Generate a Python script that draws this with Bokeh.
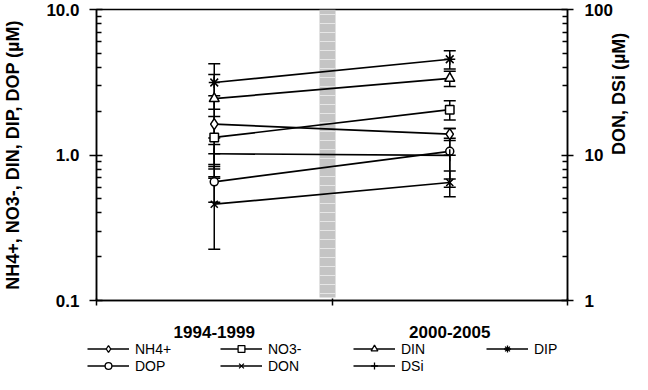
import math
from bokeh.plotting import figure
from bokeh.layouts import column
from bokeh.models import (Range1d, LogScale, LogAxis, FixedTicker,
                          Whisker, TeeHead, ColumnDataSource, Legend, LegendItem)
from bokeh.embed import file_html
from bokeh.resources import INLINE

# ---- data ----
periods = ["1994-1999", "2000-2005"]
nh4 = [1.63, 1.39]
nh4_err = [0.92, 0.13]
no3 = [1.32, 2.05]
no3_err = [0.52, 0.31]
din = [2.44, 3.36]
din_err = [1.13, 0.40]
dip = [3.15, 4.55]
dip_err = [1.09, 0.65]
dop = [0.654, 1.06]
dop_err = [0.18, 0.46]
don = [4.59, 6.47]          # right axis
don_err = [2.34, 1.30]
dsi = [10.2, 9.95]          # right axis
dsi_err = [1.6, 3.1]
left_ticks = [0.1, 1, 10]
left_labels = ["0.1", "1.0", "10.0"]
right_ticks = [1, 10, 100]
right_labels = ["1", "10", "100"]

FONT = "Liberation Sans"
xs = [i + 0.5 for i in range(len(periods))]

p = figure(frame_width=471, frame_height=291, x_range=Range1d(0, 2), y_range=Range1d(0.1, 10),
           y_axis_type="log", output_backend="svg", toolbar_location=None,
           min_border_left=92, min_border_right=69, min_border_top=9, min_border_bottom=40)
p.frame_align = False
p.extra_y_ranges = {"right": Range1d(1, 100)}
p.extra_y_scales = {"right": LogScale()}
p.xgrid.visible = False
p.ygrid.visible = False
p.outline_line_color = "black"
p.outline_line_width = 1.5
p.background_fill_color = "white"

# divider band
p.quad(left=[0.947], right=[1.015], bottom=[0.105], top=[10], fill_color="#c4c4c4",
       line_color=None, hatch_pattern="horizontal_line", hatch_color="#e6e6e6",
       hatch_scale=9, hatch_weight=1)

series = [
    ("NH4+", nh4, nh4_err, "diamond", 11, "default"),
    ("NO3-", no3, no3_err, "square", 8.5, "default"),
    ("DIN", din, din_err, "triangle", 10, "default"),
    ("DIP", dip, dip_err, "asterisk", 11, "default"),
    ("DOP", dop, dop_err, "circle", 8, "default"),
    ("DON", don, don_err, "x", 10, "right"),
    ("DSi", dsi, dsi_err, "cross", 12, "right"),
]

# legend-only strip below the chart
lg = figure(width=632, height=34, x_range=Range1d(0, 1), y_range=Range1d(0, 1),
            output_backend="svg", toolbar_location=None, min_border=0,
            x_axis_location=None, y_axis_location=None)
lg.frame_align = False
lg.outline_line_color = None
lg.grid.visible = False

items = []
for name, vals, errs, marker, size, rng in series:
    src = ColumnDataSource(dict(x=xs, y=vals,
                                lo=[v - e for v, e in zip(vals, errs)],
                                hi=[v + e for v, e in zip(vals, errs)]))
    w = Whisker(source=src, base="x", lower="lo", upper="hi", dimension="height",
                y_range_name=rng, line_color="black", line_width=1.5, level="underlay",
                upper_head=TeeHead(size=12, line_color="black", line_width=1.5),
                lower_head=TeeHead(size=12, line_color="black", line_width=1.5))
    p.add_layout(w)
    p.line("x", "y", source=src, y_range_name=rng, line_color="black", line_width=1.7)
    p.scatter("x", "y", source=src, y_range_name=rng, marker=marker, size=size,
              fill_color="white", line_color="black", line_width=1.5)
    # legend samples (nothing drawn in the strip itself)
    ln2 = lg.line(x=[math.nan, math.nan], y=[math.nan, math.nan], line_color="black",
                  line_width=1.5)
    sc2 = lg.scatter(x=[math.nan], y=[math.nan], marker=marker, size=size,
                     fill_color="white", line_color="black", line_width=1.3)
    items.append(LegendItem(label=name, renderers=[ln2, sc2]))

# x axis
xa = p.xaxis[0]
xa.ticker = FixedTicker(ticks=xs, minor_ticks=[0, 1, 2])
xa.major_label_overrides = {x: lab for x, lab in zip(xs, periods)}
xa.major_tick_in = 0
xa.major_tick_out = 0
xa.minor_tick_in = 2
xa.minor_tick_out = 5
xa.major_label_standoff = 20

# left y axis
ya = p.yaxis[0]
ya.ticker = FixedTicker(ticks=left_ticks,
                        minor_ticks=[k * d for d in (0.1, 1) for k in range(2, 10)])
ya.major_label_overrides = {t: lab for t, lab in zip(left_ticks, left_labels)}
ya.major_tick_in = 6
ya.major_tick_out = 7
ya.minor_tick_in = 5
ya.minor_tick_out = 0
ya.major_label_standoff = 10
ya.axis_label = "NH4+, NO3-, DIN, DIP, DOP (µM)"
ya.axis_label_standoff = 20

# right y axis
ra = LogAxis(y_range_name="right",
             ticker=FixedTicker(ticks=right_ticks,
                                minor_ticks=[k * d for d in (1, 10) for k in range(2, 10)]),
             axis_label="DON, DSi (µM)")
ra.major_label_overrides = {t: lab for t, lab in zip(right_ticks, right_labels)}
ra.major_tick_in = 6
ra.major_tick_out = 6
ra.minor_tick_in = 5
ra.minor_tick_out = 0
ra.major_label_standoff = 11
ra.axis_label_standoff = 3
ra.axis_label_orientation = math.pi / 2
p.add_layout(ra, "right")

for ax in (xa, ya, ra):
    ax.axis_line_color = "black"
    ax.axis_line_width = 1.5
    ax.major_tick_line_color = "black"
    ax.major_tick_line_width = 1.5
    ax.minor_tick_line_color = "black"
    ax.minor_tick_line_width = 1.5
    ax.major_label_text_font = FONT
    ax.major_label_text_font_style = "bold"
    ax.major_label_text_font_size = "17px"
    ax.major_label_text_color = "black"
    ax.axis_label_text_font = FONT
    ax.axis_label_text_font_style = "bold"
    ax.axis_label_text_font_size = "18px"
    ax.axis_label_text_color = "black"

legend = Legend(items=items, orientation="horizontal", nrows=2, ncols=4,
                location=(87, 0), glyph_width=42, glyph_height=17, label_height=17,
                label_width=85, label_standoff=6, spacing=0, padding=0, margin=0,
                border_line_color=None, background_fill_alpha=0,
                label_text_font=FONT, label_text_font_size="14px", label_text_color="black")
lg.add_layout(legend)

layout = column(p, lg, spacing=0)
open("out.html", "w").write(file_html(layout, INLINE))
